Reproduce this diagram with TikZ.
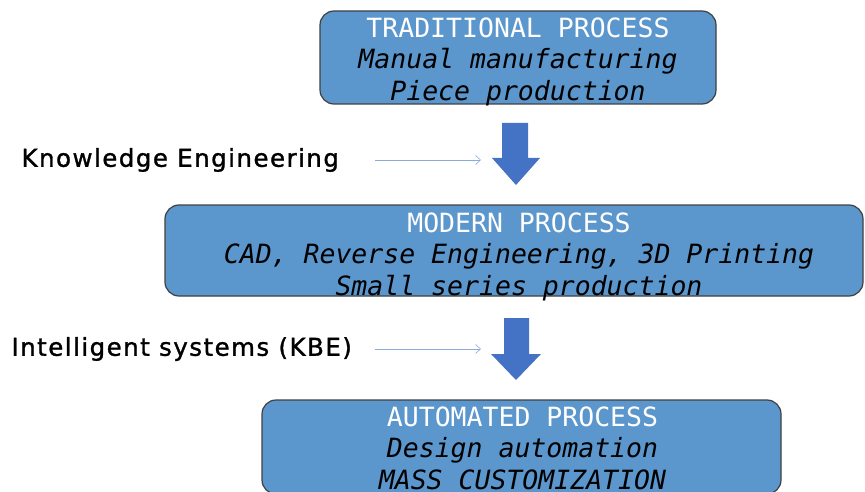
\documentclass[tikz,border=0pt]{standalone}
\usepackage{fontspec}
\setmonofont{DejaVu Sans Mono}
\setsansfont{DejaVu Sans}
\newfontfamily\driverfont[FakeBold=1.2,LetterSpace=6]{DejaVu Sans}
\usepackage{tikz}
\usetikzlibrary{arrows.meta}

\definecolor{boxblue}{RGB}{91,150,205}
\definecolor{arrowblue}{RGB}{68,114,196}
\definecolor{linkblue}{RGB}{142,170,219}

\begin{document}
\begin{tikzpicture}[x=1pt,y=-1pt,
    stage/.style={draw=black!75,line width=1.2pt,fill=boxblue,rounded corners=14pt,inner sep=0pt},
    stagetext/.style={align=center,inner sep=0pt,
        font=\ttfamily\fontsize{26.5}{31.5}\selectfont},
    driver/.style={anchor=west,font=\driverfont\fontsize{24.5}{28}\selectfont},
    link/.style={linkblue,line width=0.6pt,-{Straight Barb[length=5pt,width=9pt]}},
    bigarrow/.style={fill=arrowblue}]
    \useasboundingbox (0,0) rectangle (865,492);

    % Process stages
    \node[stage,minimum width=396pt,minimum height=93pt] (trad) at (518,57.5) {};
    \node[stagetext,yshift=-4pt] (trad-text) at (trad)
        {\textcolor{white}{TRADITIONAL PROCESS}\\ \textit{Manual manufacturing}\\ \textit{Piece production}};
    \node[stage,minimum width=698pt,minimum height=91pt] (modern) at (514,250.5) {};
    \node[stagetext,xshift=5pt,yshift=-6pt] (modern-text) at (modern)
        {\textcolor{white}{MODERN PROCESS}\\ \textit{CAD, Reverse Engineering, 3D Printing}\\ \textit{Small series production}};
    \node[stage,minimum width=519pt,minimum height=94pt] (auto) at (521.5,447) {};
    \node[stagetext,xshift=1pt,yshift=-1pt] (auto-text) at (auto)
        {\textcolor{white}{AUTOMATED PROCESS}\\ \textit{Design automation}\\ \textit{MASS CUSTOMIZATION}};

    % Transition arrows
    \fill[bigarrow] (502,123) -- (528,123) -- (528,158) -- (540,158) -- (516,185)
        -- (492,158) -- (502,158) -- cycle;
    \fill[bigarrow] (504,318) -- (529,318) -- (529,354) -- (541,354) -- (516,380)
        -- (491,354) -- (504,354) -- cycle;
    \coordinate (step1) at (481,160);
    \coordinate (step2) at (481,349);

    % Drivers
    \node[driver] (ke) at (18,160) {Knowledge Engineering};
    \node[driver] (kbe) at (8,349) {Intelligent systems (KBE)};
    \draw[link] (ke.east -| 375,0) -- (step1);
    \draw[link] (kbe.east -| 375,0) -- (step2);
\end{tikzpicture}
\end{document}
